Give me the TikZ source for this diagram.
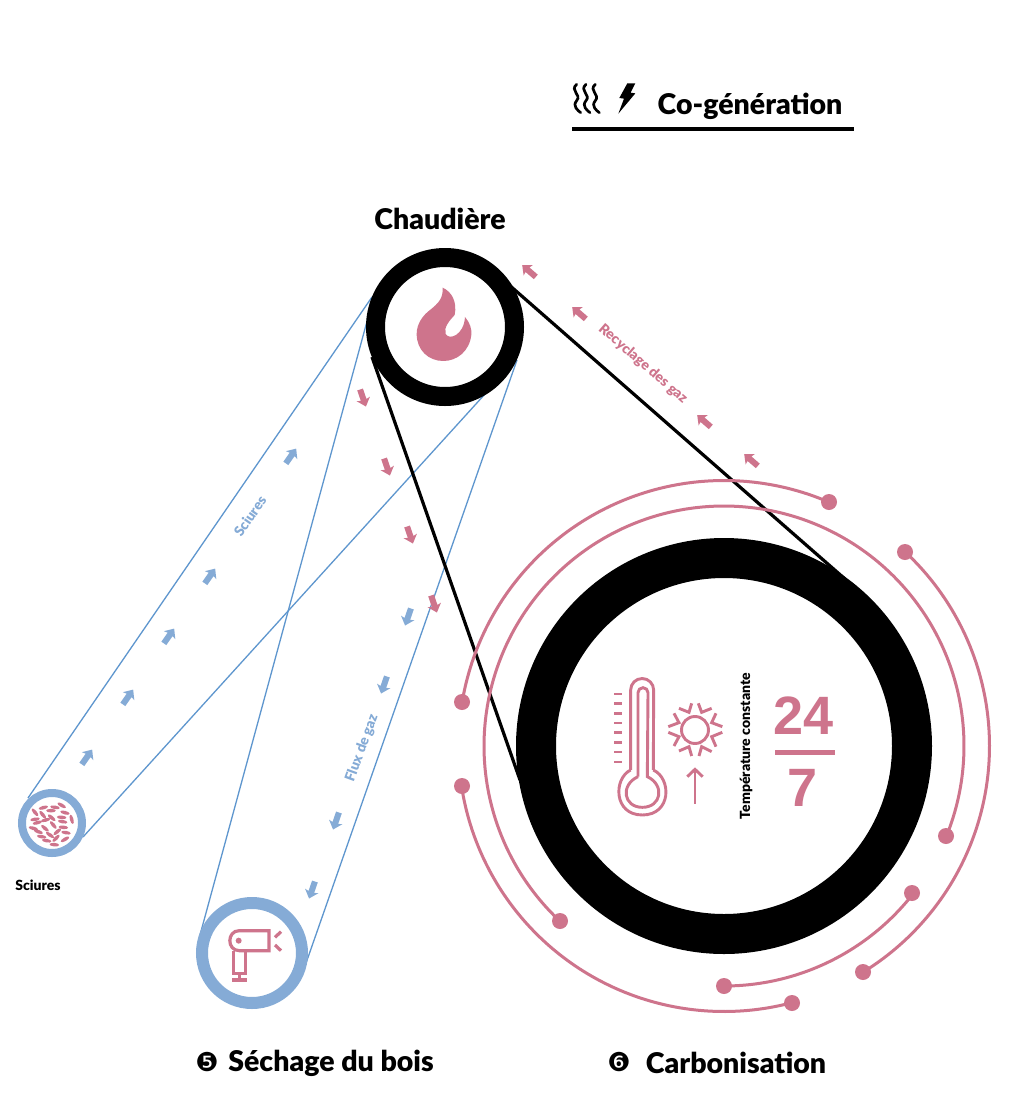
\documentclass[tikz,border=0pt]{standalone}
\usepackage{fontspec}
\setmainfont{Lato}
\newfontfamily\blackfont{Lato Black}
\newfontfamily\digfont{DejaVu Sans}
\newfontfamily\numfont{Liberation Sans}
\definecolor{pinkc}{HTML}{CE748C}
\definecolor{bluer}{HTML}{85ABD6}
\definecolor{bluel}{HTML}{5E96CE}
\newcommand{\blockarrow}[4]{%
  \begin{scope}[shift={(#1,#2)},rotate=-#3]
    \fill[#4] (-9pt,-3pt) -- (2pt,-3pt) -- (1pt,-7pt) -- (9pt,0pt) -- (1pt,7pt) -- (2pt,3pt) -- (-9pt,3pt) -- cycle;
  \end{scope}}
\newcommand{\pellet}[3]{\fill[pinkc,shift={(#1,#2)},rotate=-#3] (0,0) ellipse [x radius=4.8pt,y radius=1.8pt];}
\newcommand{\ringarc}[3]{\draw[pinkarc] plot[domain=#2:#3,samples=120] ({724+#1*cos(\x)},{746+#1*sin(\x)});}
\tikzset{
  pinkarc/.style={draw=pinkc,line width=3pt,smooth},
  dotend/.style={circle,fill=pinkc,minimum size=16pt,inner sep=0pt},
  head/.style={font=\blackfont\fontsize{28.5}{31}\selectfont,text=black,inner sep=0pt},
  small/.style={font=\blackfont\fontsize{14}{16}\selectfont,inner sep=0pt},
  bluewire/.style={draw=bluel,line width=1.3pt},
  blackwire/.style={draw=black,line width=3.2pt},
  icon/.style={draw=pinkc,line width=2.9pt},
  numdot/.style={font=\digfont\fontsize{26}{28}\selectfont,text=black,inner sep=0pt},
  bignum/.style={font=\numfont\bfseries\fontsize{54}{56}\selectfont,text=pinkc,inner sep=0pt},
}
\begin{document}
\begin{tikzpicture}[x=1pt,y=-1pt]
\useasboundingbox (0,0) rectangle (1024,1109);
\fill[white] (0,0) rectangle (1024,1109);

% title
\node[head] (cogen) at (750,106) {Co-génération};
\coordinate (ruleA) at (572,129);
\coordinate (ruleB) at (854,129);
\draw[line width=4pt] (ruleA) -- (ruleB);
\begin{scope}[shift={(560,70)},x=0.3333pt,y=-0.3333pt]
  \foreach \dx in {0,28,56}{
    \begin{scope}[xshift=\dx*0.3333pt]
    \draw[line width=2.7pt,line cap=round,black]
      (50,43) .. controls (28,62) and (66,74) .. (50,92) .. controls (36,108) and (54,122) .. (62,128);
    \end{scope}
  }
  \fill[black] (202,40) -- (226,40) -- (212,68) -- (226,70) -- (175,131) -- (192,86) -- (178,84) -- cycle;
\end{scope}

\node[head] (chaud) at (440,219) {Chaudière};

% connector anchors
\coordinate (kA) at (372,297);
\coordinate (kB) at (495,383);
\coordinate (kC) at (372,303);
\coordinate (kD) at (517,360);
\coordinate (sA) at (28,798);
\coordinate (sB) at (83,837);
\coordinate (dA) at (200,935);
\coordinate (dB) at (305,966);
\coordinate (kE) at (372,357);
\coordinate (cE) at (520,780);
\coordinate (kF) at (500,277);
\coordinate (cF) at (845,579);

\draw[bluewire] (kA) -- (sA);
\draw[bluewire] (kB) -- (sB);
\draw[bluewire] (kC) -- (dA);
\draw[bluewire] (kD) -- (dB);
\draw[blackwire] (kE) -- (cE);
\draw[blackwire] (kF) -- (cF);

% rings
\node[circle,draw=black,fill=white,line width=19pt,minimum size=139pt,inner sep=0pt] (boiler) at (445,327) {};
\node[circle,draw=black,fill=white,line width=40pt,minimum size=376pt,inner sep=0pt] (carbo) at (724,746) {};
\node[circle,draw=bluer,fill=white,line width=8pt,minimum size=60pt,inner sep=0pt] (saw) at (52,823) {};
\node[circle,draw=bluer,fill=white,line width=12pt,minimum size=100pt,inner sep=0pt] (dryer) at (252,953) {};

% pink arcs
\ringarc{265.5}{-170.5}{-66.7}
\ringarc{265.5}{-47}{58.4}
\ringarc{265.5}{171.3}{75.2}
\ringarc{240}{22.1}{-226.9}
\ringarc{240}{38}{90}
\foreach \n/\x/\y in {a/462/702,b/829/502,c/905/552,d/863/972,e/462/786,f/792/1003,g/946/836,h/560/921,i/912/893,j/724/986}{
  \node[dotend] (dot\n) at (\x,\y) {};
}

% flame
\begin{scope}[shift={(360,240)},x=0.3333pt,y=-0.3333pt]
  \fill[pinkc] (248,143) .. controls (275,155) and (292,185) .. (284,225)
    .. controls (270,240) and (250,262) .. (257,282)
    .. controls (268,302) and (312,285) .. (315,231)
    .. controls (330,248) and (336,268) .. (334,285)
    .. controls (328,335) and (290,363) .. (250,363)
    .. controls (205,363) and (170,330) .. (170,282)
    .. controls (170,250) and (190,225) .. (210,210)
    .. controls (235,190) and (250,175) .. (248,143) -- cycle;
\end{scope}

% small arrows
\foreach \x/\y in {87/757,128/697,169/636,210/576,291/456}{\blockarrow{\x}{\y}{-55}{bluer}}
\foreach \x/\y in {529/271,579/313,704/421,751/460}{\blockarrow{\x}{\y}{221}{pinkc}}
\foreach \x/\y in {363/398,387/467,410/535,434/604}{\blockarrow{\x}{\y}{71}{pinkc}}
\foreach \x/\y in {408/617,384/685,336/821,312/890}{\blockarrow{\x}{\y}{109}{bluer}}

% labels on flows
\node[small,text=pinkc,rotate=-41] (recy) at (643,364) {Recyclage des gaz};
\node[small,text=bluer,rotate=55] (scilab) at (250,516) {Sciures};
\node[small,text=bluer,rotate=70] (flux) at (362,748) {Flux de gaz};
\node[small,text=black] (scinode) at (38,885) {Sciures};
\node[small,text=black,rotate=90] (temp) at (746,746) {Température constante};

% thermometer, sun, arrow
\begin{scope}[shift={(590,650)},x=0.3333pt,y=-0.3333pt]
  \draw[icon] (122,360) -- (122,120) arc[start angle=180,end angle=0,radius=11.5pt] -- (190,360);
  \draw[icon] (122,360) .. controls (70,385) and (70,495) .. (157,495)
     .. controls (245,495) and (245,385) .. (190,360);
  \draw[icon] (144,380) -- (144,128) arc[start angle=180,end angle=0,radius=5pt] -- (172,380)
     .. controls (225,405) and (215,472) .. (157,472)
     .. controls (100,472) and (90,405) .. (144,380);
  \foreach \yy in {132,161,190,219,248,277,306,336}{
    \draw[icon] (73,\yy) -- (96,\yy);
  }
  \draw[icon] (315,240) circle [radius=13.5pt];
  \draw[icon,line join=miter]
    (325,160) -- (335,187) -- (365,175)
    (305,160) -- (297,187) -- (267,175)
    (378,190) -- (365,218) -- (397,230)
    (397,247) -- (365,260) -- (378,290)
    (365,305) -- (335,290) -- (327,318)
    (267,303) -- (297,290) -- (305,318)
    (235,247) -- (267,260) -- (252,288)
    (252,190) -- (267,218) -- (235,230);
  \draw[icon] (315,462) -- (315,358);
  \draw[icon] (292,380) -- (315,358) -- (338,380);
\end{scope}

% 24/7
\node[bignum] (n24) at (804,716) {24};
\node[bignum] (n7) at (803,788) {7};
\coordinate (fracA) at (775,752);
\coordinate (fracB) at (835,752);
\draw[pinkc,line width=5pt] (fracA) -- (fracB);

% sawdust
\begin{scope}[shift={(0,770)},x=0.3333pt,y=-0.3333pt]
  \foreach \x/\y/\a in {130/113/-15,165/112/10,185/106/30,105/127/50,128/134/50,153/122/0,195/128/15,215/148/75,105/148/-10,137/150/-15,155/143/40,185/142/5,188/155/10,112/158/-15,160/165/50,135/175/40,190/172/5,100/175/15,115/185/20,150/195/35,198/188/10,172/185/-40,125/200/10,168/205/-45,195/208/-30,140/212/10,163/224/5}{
    \pellet{\x}{\y}{\a}
  }
\end{scope}

% dryer
\begin{scope}[shift={(180,880)},x=0.3333pt,y=-0.3333pt]
  \draw[icon,line width=3.2pt] (267,152) -- (178,152) .. controls (140,152) and (140,212) .. (178,212) -- (267,212) -- cycle;
  \fill[pinkc] (176,182) circle [radius=3pt];
  \draw[icon,line width=3.2pt] (160,212) -- (160,280) -- (197,280) -- (197,212);
  \draw[icon,line width=3.2pt] (178,280) -- (178,300);
  \draw[icon,line width=3.6pt] (157,300) -- (201,300);
  \draw[icon,line width=3.2pt] (285,172) -- (303,155);
  \draw[icon,line width=3.2pt] (285,195) -- (303,212);
\end{scope}

% bottom titles
\node[numdot] (five) at (207,1062) {❺};
\node[head] (sech) at (331,1063) {Séchage du bois};
\node[numdot] (six) at (619,1062) {❻};
\node[head] (carb) at (736,1063) {Carbonisation};
\end{tikzpicture}
\end{document}
